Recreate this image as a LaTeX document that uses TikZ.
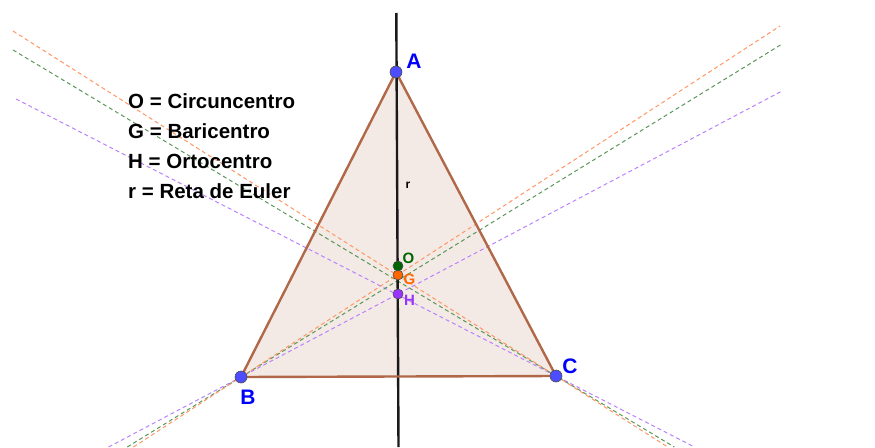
\documentclass[tikz,border=0pt]{standalone}
\usepackage{fontspec}
\setmainfont{Liberation Sans}
\definecolor{triedge}{RGB}{176,104,72}
\definecolor{trifill}{RGB}{244,234,229}
\definecolor{ptblue}{RGB}{77,77,255}
\definecolor{lblblue}{RGB}{0,0,255}
\definecolor{ogreen}{RGB}{0,100,0}
\definecolor{gorange}{RGB}{255,102,0}
\definecolor{hpurple}{RGB}{153,51,255}
\definecolor{dorange}{RGB}{255,150,100}
\definecolor{dgreen}{RGB}{90,150,90}
\definecolor{dpurple}{RGB}{185,130,255}
\begin{document}
\begin{tikzpicture}[x=1pt,y=-1pt,
  dline/.style={line width=1pt,dash pattern=on 4pt off 3pt},
  vertex/.style={circle,fill=ptblue,draw=black!70,line width=0.6pt,inner sep=0pt,minimum size=12pt},
  cpoint/.style={circle,draw=black!70,line width=0.6pt,inner sep=0pt,minimum size=10pt},
  vlabel/.style={text=lblblue,font=\fontsize{21}{21}\selectfont\bfseries,inner sep=0pt},
  clabel/.style={font=\fontsize{15}{15}\selectfont\bfseries,inner sep=0pt},
  legend/.style={anchor=west,font=\fontsize{20.5}{20.5}\selectfont\bfseries,inner sep=0pt}
]
\useasboundingbox (0,0) rectangle (875,447);
\coordinate (A) at (396,72);
\coordinate (B) at (241,377);
\coordinate (C) at (556,376);
% triangle fill
\fill[trifill] (A) -- (B) -- (C) -- cycle;
% dashed line ends
\coordinate (Bo1) at (780,26);   \coordinate (Bo2) at (133.5,447);
\coordinate (Bg1) at (782,44);   \coordinate (Bg2) at (127.3,447);
\coordinate (Bp1) at (782,91);   \coordinate (Bp2) at (108.6,447);
\coordinate (Co1) at (13,31);    \coordinate (Co2) at (667.7,447);
\coordinate (Cg1) at (13,50);    \coordinate (Cg2) at (674.3,447);
\coordinate (Cp1) at (16,99);    \coordinate (Cp2) at (694.4,447);
\draw[dline,dpurple] (Bp2) -- (B) -- (Bp1);
\draw[dline,dpurple] (Cp1) -- (C) -- (Cp2);
\draw[dline,dgreen] (Bg2) -- (B) -- (Bg1);
\draw[dline,dgreen] (Cg1) -- (C) -- (Cg2);
\draw[dline,dorange] (Bo2) -- (B) -- (Bo1);
\draw[dline,dorange] (Co1) -- (C) -- (Co2);
% Euler line
\coordinate (rtop) at (396.3,13);
\coordinate (rbot) at (398.5,447);
\draw[line width=2.4pt,black!90] (rtop) -- (rbot);
\node[font=\fontsize{12}{12}\selectfont\bfseries,inner sep=0pt] (rlab) at (408,185) {r};
% triangle edges
\draw[triedge,line width=2.4pt,line join=round] (A) -- (B) -- (C) -- cycle;
% special points
\node[cpoint,fill=hpurple] (H) at (398,294) {};
\node[cpoint,fill=gorange] (G) at (398,275) {};
\node[cpoint,fill=ogreen] (O) at (398,266) {};
\node[clabel,text=ogreen] (Ol) at (408.5,258) {O};
\node[clabel,text=gorange] (Gl) at (409.5,279) {G};
\node[clabel,text=hpurple] (Hl) at (409.5,300) {H};
% vertices
\node[vertex] (PA) at (A) {};
\node[vertex] (PB) at (B) {};
\node[vertex] (PC) at (C) {};
\node[vlabel] (Al) at (414,61) {A};
\node[vlabel] (Bl) at (248,397) {B};
\node[vlabel] (Cl) at (570,366) {C};
% legend
\node[legend] (L1) at (128,101) {O = Circuncentro};
\node[legend] (L2) at (128,131) {G = Baricentro};
\node[legend] (L3) at (128,161) {H = Ortocentro};
\node[legend] (L4) at (128,191) {r = Reta de Euler};
\end{tikzpicture}
\end{document}
